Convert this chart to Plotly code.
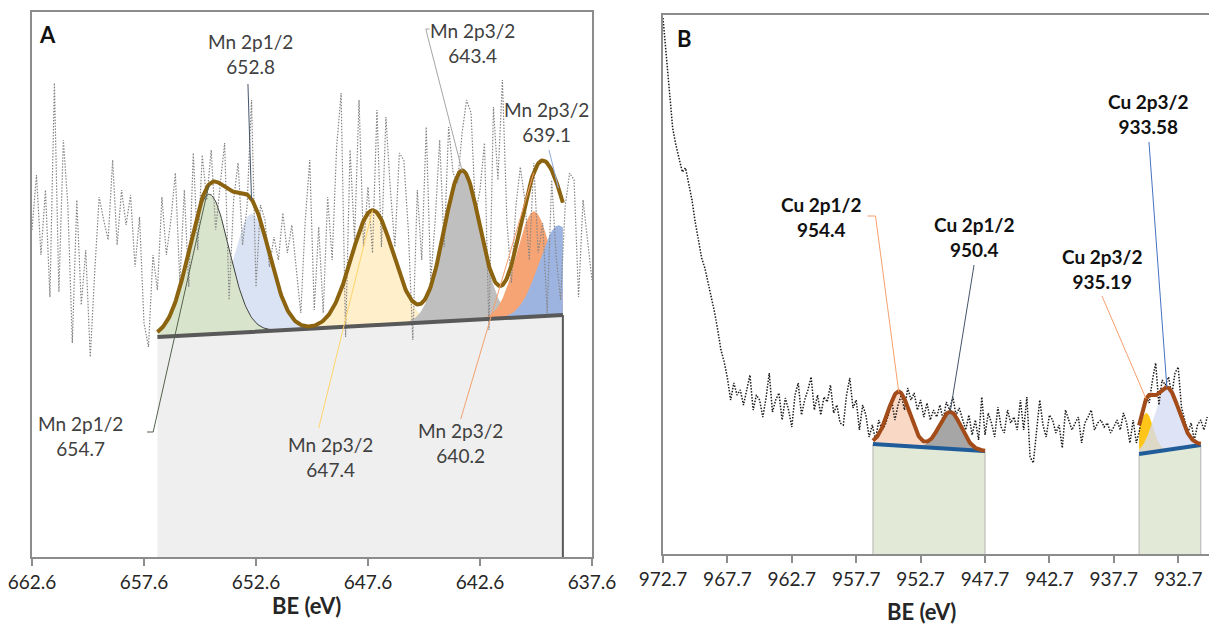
import numpy as np
import plotly.graph_objects as go

FONT = "Lato, 'Open Sans', sans-serif"

# ---------------- Panel A: Mn 2p region ----------------
mn_be_first = 662.6
mn_be_step = 0.2
mn_counts = [327, 382, 302, 367, 260, 474, 265, 417, 352, 214,
             357, 252, 307, 200, 285, 360, 337, 317, 397, 312,
             367, 332, 362, 290, 340, 234, 210, 302, 267, 360,
             302, 337, 384, 274, 367, 270, 404, 307, 402, 357,
             407, 327, 372, 414, 257, 357, 394, 312, 350, 457,
             270, 352, 337, 290, 320, 297, 344, 304, 332, 290,
             244, 337, 397, 247, 330, 244, 360, 297, 410, 464,
             220, 407, 317, 457, 310, 370, 304, 447, 310, 440,
             367, 310, 404, 397, 327, 217, 367, 297, 430, 277,
             337, 417, 310, 430, 384, 374, 424, 457, 444, 344,
             367, 414, 227, 450, 377, 477, 337, 274, 350, 390,
             357, 297, 394, 304, 334, 244, 377, 300, 257, 350,
             384, 377, 260, 357, 317, 277]

mn_bg_be = [657.0, 638.9]
mn_bg_counts = [220, 242]

mn_peak_names = ["Mn 2p1/2", "Mn 2p1/2", "Mn 2p3/2", "Mn 2p3/2", "Mn 2p3/2", "Mn 2p3/2"]
mn_peak_be = [654.7, 652.8, 647.4, 643.4, 640.2, 639.1]
mn_peak_height = [140, 118, 115, 150, 105, 90]
mn_peak_fwhm = [2.1, 2.0, 2.2, 1.9, 1.8, 2.0]
mn_peak_colors = ["#D9E4CC", "#DAE3F3", "#FFEFCA", "#BFBFBF", "#F7A474", "#9DB4E0"]
mn_leader_colors = ["#56624C", "#44546A", "#FFD36B", "#A6A6A6", "#F4A06E", "#8FAADC"]
# label centres (BE, counts) and the leader points leading to each peak
mn_label_xy = [(660.45, 121), (652.85, 503), (649.27, 100), (642.92, 514), (643.46, 114), (639.64, 435)]
mn_leader_from = [[(657.46, 125), (657.19, 125)],
                  [(652.96, 473)],
                  [(649.80, 129)],
                  [(644.85, 528), (645.02, 528)],
                  [(643.46, 138)],
                  [(639.52, 407)]]
mn_ticks = [662.6, 657.6, 652.6, 647.6, 642.6, 637.6]
mn_tick_labels = ["662.6", "657.6", "652.6", "647.6", "642.6", "637.6"]

# ---------------- Panel B: Cu 2p region ----------------
cu_be_first = 972.7
cu_be_step = 0.25
cu_counts = [536, 499, 464, 426, 409, 394, 382, 386, 369, 354,
             332, 314, 296, 286, 272, 256, 242, 224, 204, 192,
             176, 154, 171, 159, 164, 149, 166, 179, 144, 159,
             154, 137, 156, 181, 142, 154, 161, 134, 156, 144,
             127, 159, 171, 139, 154, 164, 177, 144, 159, 139,
             157, 152, 169, 141, 149, 131, 129, 159, 176, 146,
             154, 124, 149, 139, 117, 129, 114, 134, 124, 129,
             139, 154, 134, 149, 159, 144, 166, 154, 161, 144,
             154, 137, 151, 134, 144, 137, 149, 134, 152, 144,
             157, 139, 146, 134, 124, 139, 119, 134, 114, 157,
             119, 141, 131, 117, 147, 127, 121, 144, 131, 137,
             124, 154, 124, 157, 97, 91, 124, 154, 129, 117,
             139, 134, 121, 129, 106, 144, 134, 124, 131, 137,
             111, 131, 137, 144, 124, 131, 134, 127, 131, 121,
             127, 134, 124, 141, 131, 111, 134, 111, 124, 147,
             157, 151, 174, 191, 149, 174, 169, 177, 159, 181,
             187, 147, 134, 121, 131, 114, 129, 134, 124, 137]

cu_bg_be = [[956.4, 947.7], [935.74, 930.95]]
cu_bg_counts = [[110, 103], [100, 109]]

cu_peak_names = ["Cu 2p1/2", "Cu 2p1/2", "Cu 2p3/2", "Cu 2p3/2"]
cu_peak_be = [954.4, 950.4, 935.19, 933.58]
cu_peak_height = [54, 37, 40, 62]
cu_peak_fwhm = [2.0, 2.0, 1.3, 2.2]
cu_peak_region = [0, 0, 1, 1]
cu_peak_colors = ["rgba(249,214,195,0.95)", "rgba(150,150,150,0.85)",
                  "rgba(255,192,0,0.9)", "rgba(214,221,242,0.8)"]
cu_leader_colors = ["#F4A06E", "#44546A", "#F4A06E", "#4472C4"]
cu_label_xy = [(960.43, 337), (948.55, 317), (938.62, 285), (935.04, 440)]
cu_leader_from = [[(956.82, 338), (956.20, 338)],
                  [(948.55, 289)],
                  [(938.62, 258)],
                  [(934.97, 412)]]
cu_ticks = [972.7, 967.7, 962.7, 957.7, 952.7, 947.7, 942.7, 937.7, 932.7]
cu_tick_labels = ["972.7", "967.7", "962.7", "957.7", "952.7", "947.7", "942.7", "937.7", "932.7"]


def gauss(x, centre, height, fwhm):
    sigma = fwhm / 2.3548
    return height * np.exp(-0.5 * ((x - centre) / sigma) ** 2)


def linear_bg(x, be_pair, cnt_pair):
    return cnt_pair[0] + (cnt_pair[1] - cnt_pair[0]) * (x - be_pair[0]) / (be_pair[1] - be_pair[0])


fig = go.Figure()


def add_line(x, y, color, width, xa, ya, dash=None):
    fig.add_trace(go.Scatter(x=x, y=y, mode="lines", xaxis=xa, yaxis=ya, hoverinfo="skip",
                             line=dict(color=color, width=width, dash=dash)))


def add_fill(x, y, color, xa, ya, line_color=None, line_width=0):
    fig.add_trace(go.Scatter(x=x, y=y, mode="lines", fill="toself", fillcolor=color,
                             xaxis=xa, yaxis=ya, hoverinfo="skip",
                             line=dict(color=line_color or color, width=line_width)))


# ---------- Panel A drawing ----------
mn_be = mn_be_first - mn_be_step * np.arange(len(mn_counts))
mn_grid = np.linspace(mn_bg_be[0], mn_bg_be[1], 400)
mn_base = linear_bg(mn_grid, mn_bg_be, mn_bg_counts)
mn_comps = [gauss(mn_grid, c, h, w) for c, h, w in zip(mn_peak_be, mn_peak_height, mn_peak_fwhm)]
mn_env = mn_base + np.sum(mn_comps, axis=0)

# background area under the linear background
add_fill([mn_bg_be[0], mn_bg_be[0], mn_bg_be[1], mn_bg_be[1]],
         [0, mn_bg_counts[0], mn_bg_counts[1], 0], "#EFEFEF", "x", "y")
add_line([mn_bg_be[1], mn_bg_be[1]], [0, mn_bg_counts[1]], "#595959", 2, "x", "y")

draw_order = [1, 2, 3, 4, 5, 0]
for k in draw_order:
    comp = mn_comps[k]
    keep = comp > 0.5
    gx = mn_grid[keep]
    top = mn_base[keep] + comp[keep]
    add_fill(np.concatenate([gx, gx[::-1]]), np.concatenate([top, mn_base[keep][::-1]]),
             mn_peak_colors[k], "x", "y")
# thin outline of the first component
add_line(mn_grid, mn_base + mn_comps[0], "#404040", 1, "x", "y")

add_line(mn_be, mn_counts, "#858585", 1.2, "x", "y", dash="1.5px,1.5px")
add_line(mn_grid, mn_base, "#595959", 4, "x", "y")
add_line(mn_grid, mn_env, "#8C6410", 4, "x", "y")

for k, c in enumerate(mn_peak_be):
    top = float(np.interp(-c, -mn_grid, mn_env))
    pts = mn_leader_from[k] + [(c, top)]
    add_line([p[0] for p in pts], [p[1] for p in pts], mn_leader_colors[k], 1, "x", "y")
    fig.add_annotation(x=mn_label_xy[k][0], y=mn_label_xy[k][1], xref="x", yref="y",
                       xanchor="center", yanchor="middle",
                       text=f"{mn_peak_names[k]}<br>{c:.1f}", showarrow=False,
                       font=dict(family=FONT, size=19, color="#404040"), align="center")

# ---------- Panel B drawing ----------
cu_be = cu_be_first - cu_be_step * np.arange(len(cu_counts))
cu_grids, cu_bases, cu_envs = [], [], []
for r in range(2):
    g = np.linspace(cu_bg_be[r][0], cu_bg_be[r][1], 200)
    b = linear_bg(g, cu_bg_be[r], cu_bg_counts[r])
    cu_grids.append(g)
    cu_bases.append(b)
    cu_envs.append(b.copy())
    add_fill([cu_bg_be[r][0], cu_bg_be[r][0], cu_bg_be[r][1], cu_bg_be[r][1]],
             [0, cu_bg_counts[r][0], cu_bg_counts[r][1], 0], "#E2EAD7", "x2", "y2",
             line_color="#B4B4B4", line_width=1)

for k, c in enumerate(cu_peak_be):
    r = cu_peak_region[k]
    g, b = cu_grids[r], cu_bases[r]
    comp = gauss(g, c, cu_peak_height[k], cu_peak_fwhm[k])
    cu_envs[r] = cu_envs[r] + comp
    keep = comp > 0.3
    gx = g[keep]
    add_fill(np.concatenate([gx, gx[::-1]]), np.concatenate([b[keep] + comp[keep], b[keep][::-1]]),
             cu_peak_colors[k], "x2", "y2")

add_line(cu_be, cu_counts, "#1A1A1A", 1.5, "x2", "y2", dash="1.5px,1.5px")
for r in range(2):
    add_line(cu_grids[r], cu_bases[r], "#1F5C99", 4, "x2", "y2")
    add_line(cu_grids[r], cu_envs[r], "#A34C1A", 4, "x2", "y2")

for k, c in enumerate(cu_peak_be):
    r = cu_peak_region[k]
    top = float(np.interp(-c, -cu_grids[r], cu_envs[r]))
    pts = cu_leader_from[k] + [(c, top)]
    add_line([p[0] for p in pts], [p[1] for p in pts], cu_leader_colors[k], 1, "x2", "y2")
    fig.add_annotation(x=cu_label_xy[k][0], y=cu_label_xy[k][1], xref="x2", yref="y2",
                       xanchor="center", yanchor="middle",
                       text=f"<b>{cu_peak_names[k]}<br>{c:g}</b>", showarrow=False,
                       font=dict(family=FONT, size=19, color="#111111"), align="center")

# ---------- Layout ----------
W, H = 1209, 624
axis_common = dict(showgrid=False, zeroline=False, showline=True, linecolor="#8C8C8C",
                   linewidth=1.5, automargin=False)
fig.update_layout(
    width=W, height=H, margin=dict(l=0, r=0, t=0, b=0, autoexpand=False),
    paper_bgcolor="white", plot_bgcolor="white", showlegend=False,
    xaxis=dict(domain=[32 / W, 592 / W], range=[662.6, 637.6], anchor="y", mirror=True,
               tickmode="array", tickvals=mn_ticks, ticktext=mn_tick_labels,
               ticks="outside", ticklen=7, tickcolor="#8C8C8C", tickwidth=1.5,
               tickfont=dict(family=FONT, size=19, color="#262626"), **axis_common),
    yaxis=dict(domain=[1 - 557 / H, 1 - 12 / H], range=[0, 545], anchor="x", mirror=True,
               showticklabels=False, ticks="", **axis_common),
    xaxis2=dict(domain=[663 / W, 1.0], range=[972.7, 930.31], anchor="y2", mirror=True,
                tickmode="array", tickvals=cu_ticks, ticktext=cu_tick_labels,
                ticks="outside", ticklen=7, tickcolor="#8C8C8C", tickwidth=1.5,
                tickfont=dict(family=FONT, size=19, color="#262626"), **axis_common),
    yaxis2=dict(domain=[1 - 554 / H, 1 - 15 / H], range=[0, 539], anchor="x2", mirror=False,
                showticklabels=False, ticks="", **axis_common),
)

paper_text = [("<b>BE (eV)</b>", 306, 605, 22, "#262626"),
              ("<b>BE (eV)</b>", 921, 611, 22, "#262626"),
              ("<b>A</b>", 47, 34, 22, "#111111"),
              ("<b>B</b>", 684, 38, 22, "#111111")]
for txt, px, py, size, col in paper_text:
    fig.add_annotation(x=px / W, y=1 - py / H, xref="paper", yref="paper", text=txt,
                       xanchor="center", yanchor="middle", showarrow=False,
                       font=dict(family=FONT, size=size, color=col))

fig.write_html("out.html")
